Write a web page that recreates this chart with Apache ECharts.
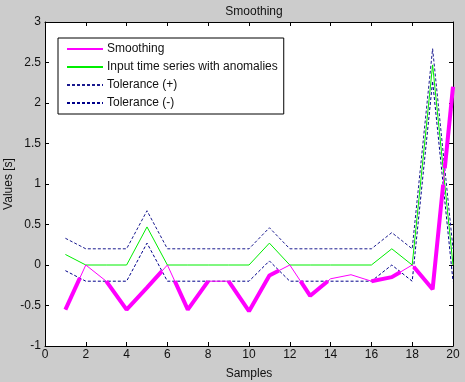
<!DOCTYPE html>
<html>
<head>
<meta charset="utf-8">
<script src="https://cdn.jsdelivr.net/npm/echarts@6/dist/echarts.min.js"></script>
<style>
  html, body { margin: 0; padding: 0; background: #cccccc; }
  #chart-panel { width: 465px; height: 382px; }
</style>
</head>
<body>
<div id="chart-panel"></div>
<script>
// values
var samples = [1, 2, 3, 4, 5, 6, 7, 8, 9, 10, 11, 12, 13, 14, 15, 16, 17, 18, 19, 20];
var inputSeries = [0.13, 0, 0, 0, 0.47, 0, 0, 0, 0, 0, 0.27, 0, 0, 0, 0, 0, 0.2, 0, 2.47, 0];
var tolPlus = [0.33, 0.2, 0.2, 0.2, 0.67, 0.2, 0.2, 0.2, 0.2, 0.2, 0.46, 0.2, 0.2, 0.2, 0.2, 0.2, 0.4, 0.2, 2.67, 0.2];
var tolMinus = [-0.07, -0.2, -0.2, -0.2, 0.27, -0.2, -0.2, -0.2, -0.2, -0.2, 0.05, -0.2, -0.2, -0.2, -0.2, -0.2, 0, -0.2, 2.27, -0.2];
var smoothing = [-0.55, 0, -0.2, -0.55, -0.28, 0, -0.55, -0.2, -0.2, -0.57, -0.13, 0, -0.38, -0.17, -0.12, -0.2, -0.15, 0, -0.3, 2.2];
var xTicks = [0, 2, 4, 6, 8, 10, 12, 14, 16, 18, 20];
var yTicks = [-1, -0.5, 0, 0.5, 1, 1.5, 2, 2.5, 3];

var FONT = 'Liberation Sans, Arial, sans-serif';

function pairs (ys) {
  return samples.map(function (x, i) { return [x, ys[i]] })
}

// pieces of the smoothing line that leave the tolerance band are drawn thick
function outsidePieces () {
  var pieces = []
  var cur = null
  for (var i = 0; i < samples.length - 1; i++) {
    var s0 = smoothing[i], s1 = smoothing[i + 1]
    var d0 = s0 - tolMinus[i], d1 = s1 - tolMinus[i + 1]
    var u0 = tolPlus[i] - s0, u1 = tolPlus[i + 1] - s1
    var cuts = [0, 1]
    if (d0 * d1 < 0) cuts.push(d0 / (d0 - d1))
    if (u0 * u1 < 0) cuts.push(u0 / (u0 - u1))
    cuts.sort(function (a, b) { return a - b })
    for (var k = 0; k < cuts.length - 1; k++) {
      var a = cuts[k], b = cuts[k + 1]
      if (b - a < 1e-9) continue
      var m = (a + b) / 2
      var dm = d0 + (d1 - d0) * m, um = u0 + (u1 - u0) * m
      var pa = [samples[i] + a, s0 + (s1 - s0) * a]
      var pb = [samples[i] + b, s0 + (s1 - s0) * b]
      if (dm < 0 || um < 0) {
        if (!cur) { cur = [pa]; pieces.push(cur) }
        cur.push(pb)
      } else {
        cur = null
      }
    }
  }
  return pieces
}

var series = [
  {
    name: 'smooth-thin',
    type: 'line',
    data: pairs(smoothing),
    symbol: 'none',
    lineStyle: { color: '#ff00ff', width: 1 },
    z: 3
  },
  {
    name: 'Input time series with anomalies',
    type: 'line',
    data: pairs(inputSeries),
    symbol: 'none',
    itemStyle: { color: '#00ee00' },
    lineStyle: { color: '#00ee00', width: 1 },
    z: 2
  },
  {
    name: 'Tolerance (+)',
    type: 'line',
    data: pairs(tolPlus),
    symbol: 'none',
    itemStyle: { color: '#1a1a8f' },
    lineStyle: { color: '#1a1a8f', width: 1, type: [3, 2] },
    z: 2
  },
  {
    name: 'Tolerance (-)',
    type: 'line',
    data: pairs(tolMinus),
    symbol: 'none',
    itemStyle: { color: '#00008b' },
    lineStyle: { color: '#00008b', width: 1, type: [3, 2] },
    z: 2
  }
]

outsidePieces().forEach(function (p) {
  series.unshift({
    name: 'Smoothing',
    type: 'line',
    data: p,
    symbol: 'none',
    itemStyle: { color: '#ff00ff' },
    lineStyle: { color: '#ff00ff', width: 4 },
    z: 4
  })
})

var axisCommon = {
  type: 'value',
  axisLine: { show: true, onZero: false, lineStyle: { color: '#000', width: 1 } },
  axisTick: { show: true, inside: true, length: 4, lineStyle: { color: '#000' } },
  splitLine: { show: false }
}

var option = {
  backgroundColor: '#cccccc',
  animation: false,
  textStyle: { fontFamily: FONT },
  title: {
    text: 'Smoothing',
    left: 249,
    textAlign: 'center',
    top: 1,
    textStyle: { fontFamily: FONT, fontSize: 12, fontWeight: 'normal', color: '#111' }
  },
  grid: {
    left: 45, right: 12, top: 22, bottom: 36,
    outerBoundsMode: 'none',
    containLabel: false,
    show: true, backgroundColor: '#fff', borderWidth: 0
  },
  legend: {
    data: ['Smoothing', 'Input time series with anomalies', 'Tolerance (+)', 'Tolerance (-)'],
    orient: 'vertical',
    left: 58,
    top: 38,
    padding: [5, 6, 5, 8],
    itemWidth: 36,
    itemHeight: 12,
    itemGap: 6,
    itemStyle: { opacity: 0 },
    backgroundColor: '#fff',
    borderColor: '#000',
    borderWidth: 1,
    borderRadius: 0,
    textStyle: { fontFamily: FONT, fontSize: 12, color: '#111', padding: [0, 0, 0, -1] },
    selectedMode: false
  },
  xAxis: [
    Object.assign({}, axisCommon, {
      min: xTicks[0],
      max: xTicks[xTicks.length - 1],
      interval: 2,
      name: 'Samples',
      nameLocation: 'middle',
      nameGap: 22,
      nameMoveOverlap: false,
      nameTextStyle: { fontFamily: FONT, fontSize: 12, color: '#111' },
      axisLabel: { fontFamily: FONT, fontSize: 12, color: '#111', margin: 3 }
    }),
    Object.assign({}, axisCommon, {
      position: 'top',
      min: xTicks[0],
      max: xTicks[xTicks.length - 1],
      interval: 2,
      axisLabel: { show: false }
    })
  ],
  yAxis: [
    Object.assign({}, axisCommon, {
      min: yTicks[0],
      max: yTicks[yTicks.length - 1],
      interval: 0.5,
      name: 'Values [s]',
      nameLocation: 'middle',
      nameGap: 30,
      nameMoveOverlap: false,
      nameTextStyle: { fontFamily: FONT, fontSize: 12, color: '#111' },
      axisLabel: { fontFamily: FONT, fontSize: 12, color: '#111', margin: 4 }
    }),
    Object.assign({}, axisCommon, {
      position: 'right',
      min: yTicks[0],
      max: yTicks[yTicks.length - 1],
      interval: 0.5,
      axisLabel: { show: false }
    })
  ],
  series: series
}

var chart = echarts.init(document.getElementById('chart-panel'))
chart.setOption(option)
</script>
</body>
</html>
